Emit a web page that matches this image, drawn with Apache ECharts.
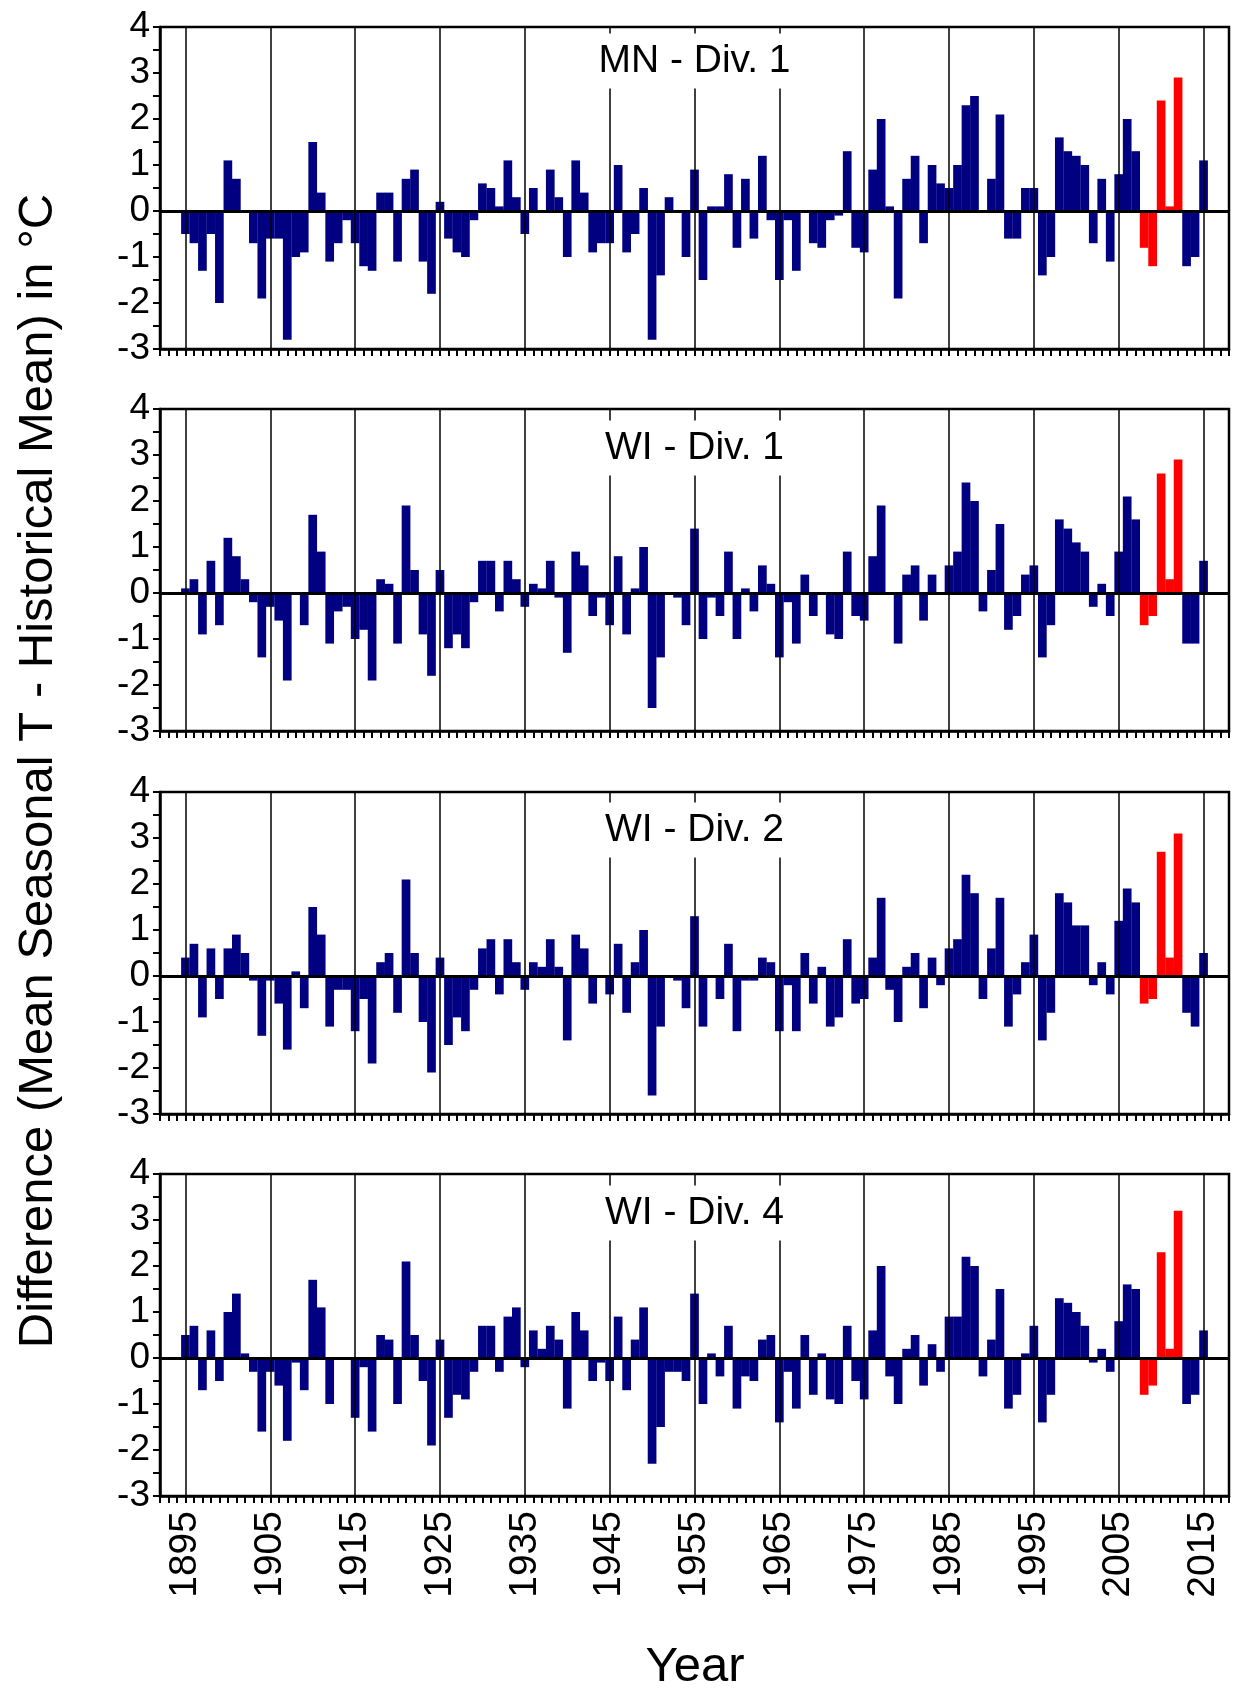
<!DOCTYPE html>
<html lang="en">
<head>
<meta charset="UTF-8">
<title>Seasonal temperature differences</title>
<style>
    html, body { margin: 0; padding: 0; background: #fff; }
    #chart { width: 1241px; height: 1690px; }
</style>
</head>
<body>
<div id="chart"></div>
<script src="https://cdn.jsdelivr.net/npm/echarts@6/dist/echarts.min.js"></script>
<script>
    // one value per year, 1895 .. 2015 (10 per row)
    var firstYear = 1895;
    var mnDiv1 = [
        -0.5, -0.7, -1.3, -0.5, -2.0, 1.1, 0.7, 0, -0.7, -1.9,
        -0.6, -0.6, -2.8, -1.0, -0.9, 1.5, 0.4, -1.1, -0.7, -0.2,
        -0.7, -1.2, -1.3, 0.4, 0.4, -1.1, 0.7, 0.9, -1.1, -1.8,
        0.2, -0.6, -0.9, -1.0, -0.2, 0.6, 0.5, 0.1, 1.1, 0.3,
        -0.5, 0.5, 0, 0.9, 0.3, -1.0, 1.1, 0.4, -0.9, -0.7,
        -0.7, 1.0, -0.9, -0.5, 0.5, -2.8, -1.4, 0.3, 0, -1.0,
        0.9, -1.5, 0.1, 0.1, 0.8, -0.8, 0.7, -0.6, 1.2, -0.2,
        -1.5, -0.2, -1.3, 0, -0.7, -0.8, -0.2, -0.1, 1.3, -0.8,
        -0.9, 0.9, 2.0, 0.1, -1.9, 0.7, 1.2, -0.7, 1.0, 0.6,
        0.5, 1.0, 2.3, 2.5, 0, 0.7, 2.1, -0.6, -0.6, 0.5,
        0.5, -1.4, -1.0, 1.6, 1.3, 1.2, 1.0, -0.7, 0.7, -1.1,
        0.8, 2.0, 1.3, -0.8, -1.2, 2.4, 0.1, 2.9, -1.2, -1.0,
        1.1
    ];
    var wiDiv1 = [
        0.1, 0.3, -0.9, 0.7, -0.7, 1.2, 0.8, 0.3, -0.2, -1.4,
        -0.3, -0.6, -1.9, 0, -0.7, 1.7, 0.9, -1.1, -0.4, -0.3,
        -1.0, -0.8, -1.9, 0.3, 0.2, -1.1, 1.9, 0.5, -0.9, -1.8,
        0.5, -1.2, -0.9, -1.2, -0.2, 0.7, 0.7, -0.4, 0.7, 0.3,
        -0.3, 0.2, 0.1, 0.7, -0.1, -1.3, 0.9, 0.6, -0.5, -0.1,
        -0.7, 0.8, -0.9, 0.1, 1.0, -2.5, -1.4, 0, -0.1, -0.7,
        1.4, -1.0, -0.1, -0.5, 0.9, -1.0, 0.1, -0.4, 0.6, 0.2,
        -1.4, -0.2, -1.1, 0.4, -0.5, 0, -0.9, -1.0, 0.9, -0.5,
        -0.6, 0.8, 1.9, 0, -1.1, 0.4, 0.6, -0.6, 0.4, 0,
        0.6, 0.9, 2.4, 2.0, -0.4, 0.5, 1.5, -0.8, -0.5, 0.4,
        0.6, -1.4, -0.7, 1.6, 1.4, 1.1, 0.9, -0.3, 0.2, -0.5,
        0.9, 2.1, 1.6, -0.7, -0.5, 2.6, 0.3, 2.9, -1.1, -1.1,
        0.7
    ];
    var wiDiv2 = [
        0.4, 0.7, -0.9, 0.6, -0.5, 0.6, 0.9, 0.5, -0.1, -1.3,
        -0.1, -0.6, -1.6, 0.1, -0.7, 1.5, 0.9, -1.1, -0.3, -0.3,
        -1.2, -0.5, -1.9, 0.3, 0.5, -0.8, 2.1, 0.5, -1.0, -2.1,
        0.4, -1.5, -0.9, -1.2, -0.3, 0.6, 0.8, -0.4, 0.8, 0.3,
        -0.3, 0.3, 0.2, 0.8, 0.2, -1.4, 0.9, 0.6, -0.6, 0,
        -0.4, 0.7, -0.8, 0.3, 1.0, -2.6, -1.1, 0, -0.1, -0.7,
        1.3, -1.1, 0, -0.5, 0.7, -1.2, -0.1, -0.1, 0.4, 0.3,
        -1.2, -0.2, -1.2, 0.5, -0.6, 0.2, -1.1, -0.9, 0.8, -0.6,
        -0.5, 0.4, 1.7, -0.3, -1.0, 0.2, 0.5, -0.7, 0.4, -0.2,
        0.6, 0.8, 2.2, 1.8, -0.5, 0.6, 1.7, -1.1, -0.4, 0.3,
        0.9, -1.4, -0.8, 1.8, 1.6, 1.1, 1.1, -0.2, 0.3, -0.4,
        1.2, 1.9, 1.6, -0.6, -0.5, 2.7, 0.4, 3.1, -0.8, -1.1,
        0.5
    ];
    var wiDiv4 = [
        0.5, 0.7, -0.7, 0.6, -0.5, 1.0, 1.4, 0.1, -0.3, -1.6,
        -0.3, -0.6, -1.8, -0.1, -0.7, 1.7, 1.1, -1.0, 0, 0,
        -1.3, -0.2, -1.6, 0.5, 0.4, -1.0, 2.1, 0.5, -0.5, -1.9,
        0.4, -1.3, -0.8, -0.9, -0.3, 0.7, 0.7, -0.3, 0.9, 1.1,
        -0.2, 0.6, 0.2, 0.7, 0.4, -1.1, 1.0, 0.6, -0.5, -0.1,
        -0.5, 0.9, -0.7, 0.4, 1.1, -2.3, -1.5, -0.3, -0.3, -0.5,
        1.4, -1.0, 0.1, -0.4, 0.7, -1.1, -0.4, -0.5, 0.4, 0.5,
        -1.4, -0.3, -1.1, 0.5, -0.8, 0.1, -0.9, -1.0, 0.7, -0.5,
        -0.9, 0.6, 2.0, -0.4, -1.0, 0.2, 0.5, -0.6, 0.3, -0.3,
        0.9, 0.9, 2.2, 2.0, -0.4, 0.4, 1.5, -1.1, -0.8, 0.1,
        0.7, -1.4, -0.8, 1.3, 1.2, 1.0, 0.7, -0.1, 0.2, -0.3,
        0.8, 1.6, 1.5, -0.8, -0.6, 2.3, 0.2, 3.2, -1.0, -0.8,
        0.6
    ];
    var panelNames = ['MN - Div. 1', 'WI - Div. 1', 'WI - Div. 2', 'WI - Div. 4'];
    var decadeYears = [1895, 1905, 1915, 1925, 1935, 1945, 1955, 1965, 1975, 1985, 1995, 2005, 2015];
    var redYears = [2008, 2009, 2010, 2011, 2012];

    var panels = [mnDiv1, wiDiv1, wiDiv2, wiDiv4];
    var gridTops = [27, 409, 792, 1174];
    var titleMid = [61, 448, 830, 1213];
    var font = '"Liberation Sans", Arial, sans-serif';
    var plotCenter = 694.5;

    var dom = document.getElementById('chart');
    var myChart = echarts.init(dom, null, {renderer: 'canvas'});

    var grids = [], xAxes = [], yAxes = [], series = [], titles = [];
    panels.forEach(function (vals, i) {
        grids.push({
            left: 160, right: 12, top: gridTops[i], height: 322,
            show: true, borderColor: '#000', borderWidth: 2.5
        });
        xAxes.push({
            gridIndex: i, type: 'value', min: 1892, max: 2018, interval: 1,
            axisLine: {show: true, onZero: false, lineStyle: {color: '#000', width: 2.5}},
            axisTick: {show: true, length: 7, lineStyle: {color: '#000', width: 2}},
            splitLine: {show: false},
            axisLabel: i === 3 ? {
                show: true, rotate: 90, margin: 15, fontSize: 39, color: '#000', fontFamily: font,
                formatter: function (v) {
                    return decadeYears.indexOf(v) >= 0 ? String(v) : '';
                }
            } : {show: false}
        });
        yAxes.push({
            gridIndex: i, type: 'value', min: -3, max: 4, interval: 1,
            axisLine: {show: true, onZero: false, lineStyle: {color: '#000', width: 2.5}},
            axisTick: {show: true, length: 7, lineStyle: {color: '#000', width: 2}},
            minorTick: {show: true, splitNumber: 2, length: 7, lineStyle: {color: '#000', width: 2}},
            splitLine: {show: false},
            axisLabel: {fontSize: 37, color: '#000', margin: 10, fontFamily: font}
        });
        series.push({
            type: 'bar',
            xAxisIndex: i,
            yAxisIndex: i,
            barWidth: 8.7,
            animation: false,
            data: vals.map(function (v, k) {
                var yr = firstYear + k;
                return {
                    value: [yr, v],
                    itemStyle: {color: redYears.indexOf(yr) >= 0 ? '#ff0000' : '#000080'}
                };
            }),
            markLine: {
                silent: true,
                animation: false,
                symbol: ['none', 'none'],
                label: {show: false},
                lineStyle: {color: '#000', type: 'solid', width: 1.5},
                data: decadeYears.map(function (y) {
                    return {xAxis: y};
                }).concat([{yAxis: 0, lineStyle: {color: '#000', type: 'solid', width: 3}}])
            }
        });
        titles.push({
            text: panelNames[i],
            left: plotCenter - 14,
            top: titleMid[i] - 8,
            textAlign: 'center',
            textVerticalAlign: 'middle',
            padding: [8, 14],
            backgroundColor: '#fff',
            textStyle: {fontSize: 39, fontWeight: 'normal', color: '#000', fontFamily: font}
        });
    });

    var option = {
        backgroundColor: '#fff',
        animation: false,
        title: titles,
        grid: grids,
        xAxis: xAxes,
        yAxis: yAxes,
        series: series,
        graphic: [
            {
                type: 'text', x: 38, y: 771, rotation: Math.PI / 2,
                style: {
                    text: 'Difference (Mean Seasonal T - Historical Mean) in \u00B0C',
                    fontSize: 49, fontFamily: font, fill: '#000',
                    align: 'center', verticalAlign: 'middle'
                }
            },
            {
                type: 'text', x: 695, y: 1667,
                style: {
                    text: 'Year', fontSize: 49, fontFamily: font, fill: '#000',
                    align: 'center', verticalAlign: 'middle'
                }
            }
        ]
    };
    myChart.setOption(option, true);
</script>
</body>
</html>
